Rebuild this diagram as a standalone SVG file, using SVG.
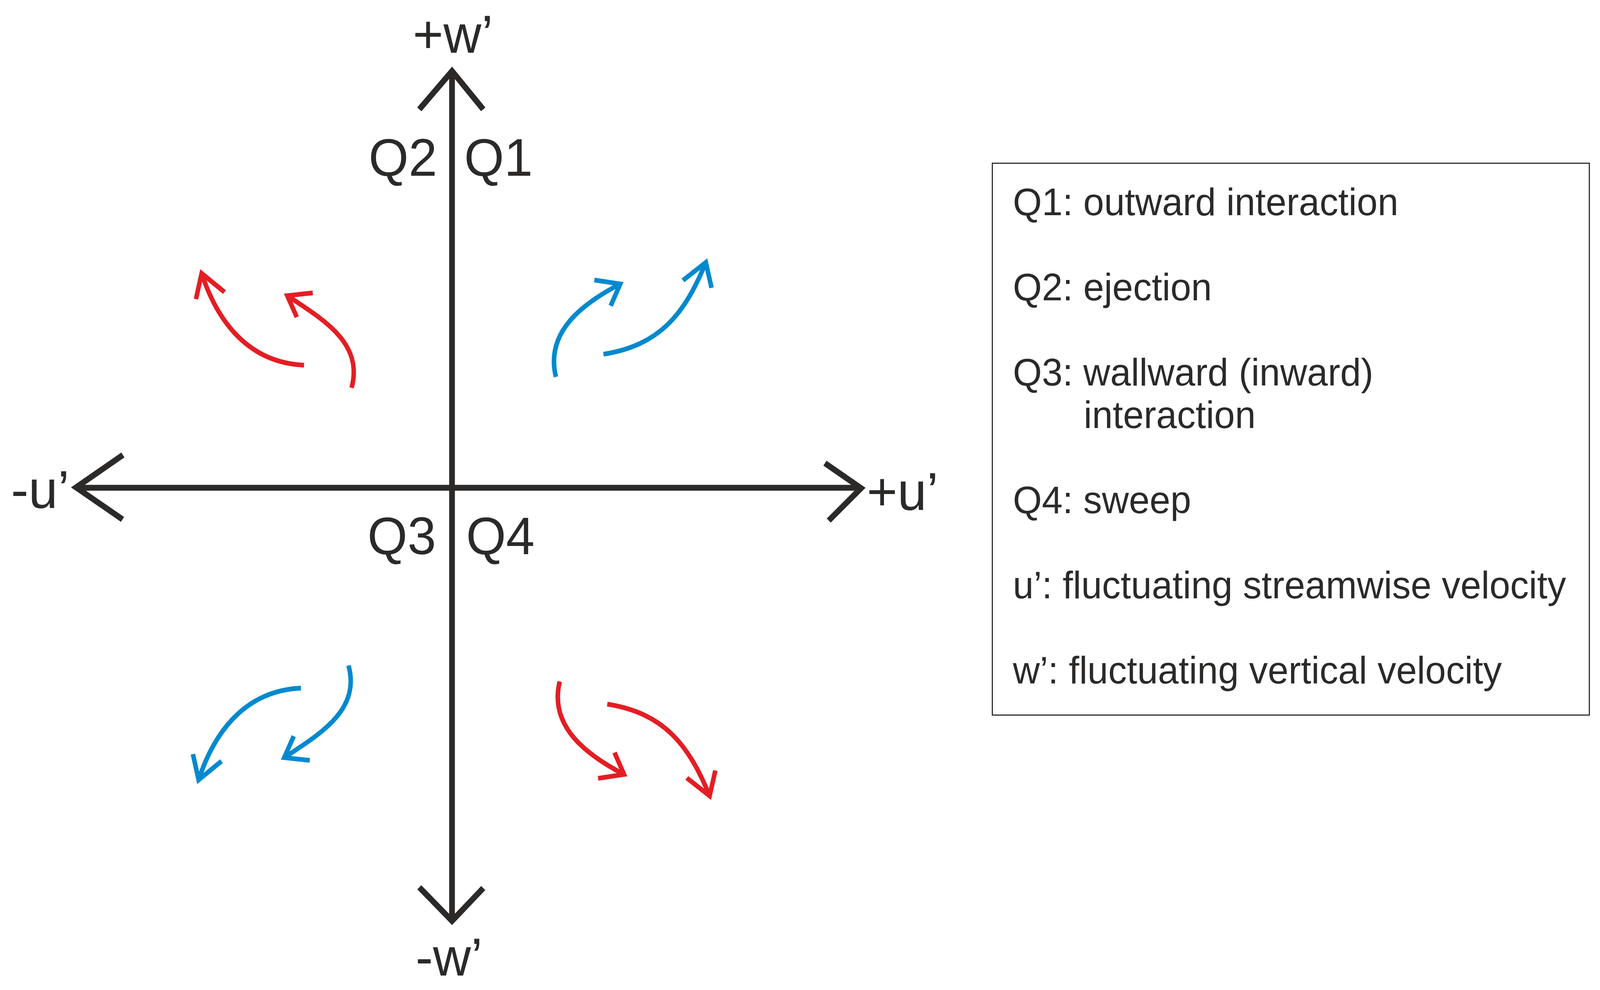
<svg xmlns="http://www.w3.org/2000/svg" width="4205" height="2535" viewBox="0 0 4205 2535" preserveAspectRatio="none" style="width:100vw;height:100vh;display:block">
<style>
.ax{fill:none;stroke:#2b2a29;stroke-width:15;stroke-linecap:butt;stroke-linejoin:miter;stroke-miterlimit:10}
.red{fill:none;stroke:#e31e24;stroke-width:12;stroke-linecap:butt;stroke-linejoin:miter;stroke-miterlimit:10}
.blue{fill:none;stroke:#0089cf;stroke-width:12;stroke-linecap:butt;stroke-linejoin:miter;stroke-miterlimit:10}
text{font-family:"Liberation Sans",Arial,Helvetica,sans-serif;fill:#2b2a29}
.al{font-size:138px}
.ql{font-size:135px}
.lg{font-size:98px}
</style>
<rect width="4205" height="2535" fill="#ffffff"/>
<g id="axes">
  <line class="ax" x1="1188" y1="185" x2="1188" y2="2355"/>
  <line class="ax" x1="203" y1="1249" x2="2260" y2="1249"/>
  <polyline class="ax" points="1102,280 1188,182 1270,280"/>
  <polyline class="ax" points="1102,2272 1188,2358 1270,2274"/>
  <polyline class="ax" points="323,1165 200,1248 322,1330"/>
  <polyline class="ax" points="2168,1186 2263,1250 2178,1333"/>
</g>
<g id="axis-labels">
  <text class="al" x="1085" y="135">+w’</text>
  <text class="al" x="1092" y="2498">-w’</text>
  <text class="al" x="29" y="1301">-u’</text>
  <text class="al" x="2278" y="1306">+u’</text>
</g>
<g id="quadrant-labels">
  <text class="ql" x="1149" y="450" text-anchor="end">Q2</text>
  <text class="ql" x="1220" y="450">Q1</text>
  <text class="ql" x="1146" y="1419" text-anchor="end">Q3</text>
  <text class="ql" x="1225" y="1419">Q4</text>
</g>
<g id="connectors">
  <g id="q2-arrows">
    <path class="red" d="M799,935 C640,928 565,805 530,700"/>
    <polyline class="red" points="515,766 530,700 590,748"/>
    <path class="red" d="M924,993 C956,878 849,818 755,757"/>
    <polyline class="red" points="822,750 755,757 780,812"/>
  </g>
  <g id="q1-arrows">
    <path class="blue" d="M1461,965 C1432,849 1532,777 1630,727"/>
    <polyline class="blue" points="1562,717 1630,727 1605,783"/>
    <path class="blue" d="M1586,907 C1735,884 1800,803 1855,672"/>
    <polyline class="blue" points="1795,718 1855,672 1870,737"/>
  </g>
  <g id="q3-arrows" transform="translate(-8,2697) scale(1,-1)">
    <path class="blue" d="M799,935 C640,928 565,805 530,700"/>
    <polyline class="blue" points="515,766 530,700 590,748"/>
    <path class="blue" d="M924,993 C956,878 849,818 755,757"/>
    <polyline class="blue" points="822,750 755,757 780,812"/>
  </g>
  <g id="q4-arrows" transform="translate(10,2710) scale(1,-1)">
    <path class="red" d="M1461,965 C1432,849 1532,777 1630,727"/>
    <polyline class="red" points="1562,717 1630,727 1605,783"/>
    <path class="red" d="M1586,907 C1735,884 1800,803 1855,672"/>
    <polyline class="red" points="1795,718 1855,672 1870,737"/>
  </g>
</g>
<g id="legend">
  <rect x="2608" y="418" width="1569" height="1413" fill="none" stroke="#2b2a29" stroke-width="3"/>
  <text class="lg" x="2662" y="551">Q1: outward interaction</text>
  <text class="lg" x="2662" y="769">Q2: ejection</text>
  <text class="lg" x="2662" y="987">Q3: wallward (inward)</text>
  <text class="lg" x="2848" y="1096">interaction</text>
  <text class="lg" x="2662" y="1314">Q4: sweep</text>
  <text class="lg" x="2662" y="1532">u’: fluctuating streamwise velocity</text>
  <text class="lg" x="2662" y="1750">w’: fluctuating vertical velocity</text>
</g>
</svg>
